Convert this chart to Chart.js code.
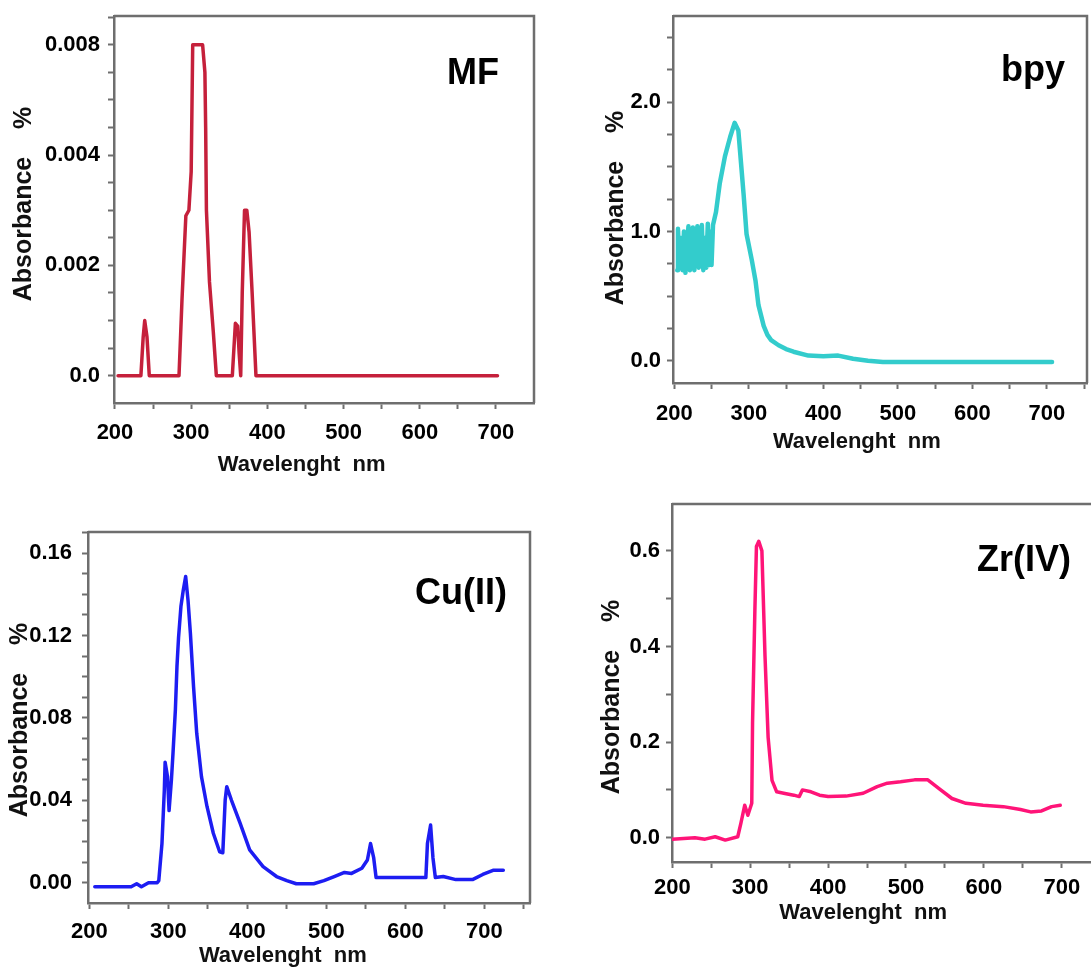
<!DOCTYPE html>
<html>
<head>
<meta charset="utf-8">
<title>Absorbance spectra</title>
<script src="https://cdn.jsdelivr.net/npm/chart.js"></script>
<style>
  html, body { margin: 0; padding: 0; background: #fff; }
  body { width: 1091px; height: 969px; position: relative; overflow: hidden; }
  canvas { position: absolute; }
</style>
</head>
<body>
<canvas id="mfChart" width="545" height="485" style="left:0px;top:0px"></canvas>
<canvas id="bpyChart" width="546" height="485" style="left:545px;top:0px"></canvas>
<canvas id="cuChart" width="545" height="484" style="left:0px;top:485px"></canvas>
<canvas id="zrChart" width="546" height="484" style="left:545px;top:485px"></canvas>
<script>
// ======= DATA =======
const xTickValues = [200, 300, 400, 500, 600, 700];

// MF: the axis is evenly spaced but its top label reads 0.008
const mfWavelength = [204, 234, 237, 239, 242, 245, 284, 288, 293, 297, 300, 302, 304, 310, 315, 318, 319, 320, 324, 329, 333, 354, 358, 361, 363, 365, 367, 370, 373, 376, 380, 385, 702];
const mfAbsorbance = [0, 0, 0.0007, 0.001, 0.0007, 0, 0, 0.0014, 0.0029, 0.003, 0.0037, 0.006, 0.006, 0.006, 0.006, 0.0055, 0.0045, 0.003, 0.0017, 0.0008, 0, 0, 0.00095, 0.0009, 0.0004, 0, 0.0015, 0.003, 0.003, 0.0026, 0.0015, 0, 0];
const mfYTickValues = [0, 0.002, 0.004, 0.006];
const mfYTickLabels = ['0.0', '0.002', '0.004', '0.008'];

const bpyWavelength = [204, 205, 207, 209, 211, 213, 215, 217, 219, 221, 223, 225, 227, 229, 231, 233, 235, 237, 239, 241, 243, 245, 247, 249, 250, 252, 256, 261, 268, 275, 281, 286, 289, 293, 297, 304, 309, 313, 320, 325, 330, 340, 350, 360, 380, 400, 420, 440, 460, 480, 707];
const bpyAbsorbance = [0.70, 1.02, 0.72, 0.95, 0.70, 1.00, 0.68, 0.85, 1.04, 0.70, 0.75, 1.03, 0.70, 0.90, 1.04, 0.72, 0.78, 1.05, 0.70, 0.95, 0.72, 1.06, 0.74, 1.00, 0.74, 1.05, 1.15, 1.37, 1.58, 1.73, 1.84, 1.78, 1.57, 1.29, 0.98, 0.78, 0.62, 0.43, 0.27, 0.20, 0.16, 0.12, 0.09, 0.07, 0.04, 0.035, 0.04, 0.015, 0.0, -0.01, -0.01];
const bpyYTickValues = [0, 1, 2];
const bpyYTickLabels = ['0.0', '1.0', '2.0'];

const cuWavelength = [207, 253, 260, 266, 275, 286, 288, 292, 295, 296, 299, 301, 304, 306, 309, 311, 313, 316, 319, 322, 325, 328, 332, 336, 342, 349, 357, 365, 369, 372, 374, 380, 391, 403, 420, 437, 450, 462, 484, 497, 510, 523, 532, 545, 552, 556, 560, 563, 626, 628, 632, 635, 638, 648, 664, 685, 698, 711, 724];
const cuAbsorbance = [-0.002, -0.002, -0.0005, -0.002, 0, 0, 0.001, 0.019, 0.045, 0.0585, 0.0515, 0.035, 0.05, 0.063, 0.084, 0.105, 0.119, 0.134, 0.142, 0.1486, 0.137, 0.121, 0.095, 0.0725, 0.0515, 0.037, 0.024, 0.015, 0.0145, 0.040, 0.0466, 0.040, 0.0288, 0.0159, 0.0078, 0.003, 0.001, -0.0005, -0.0005, 0.001, 0.003, 0.005, 0.0045, 0.007, 0.011, 0.019, 0.012, 0.0025, 0.0025, 0.019, 0.028, 0.012, 0.0025, 0.003, 0.0015, 0.0015, 0.004, 0.006, 0.006];
const cuYTickValues = [0, 0.04, 0.08, 0.12, 0.16];
const cuYTickLabels = ['0.00', '0.04', '0.08', '0.12', '0.16'];

const zrWavelength = [200, 229, 242, 255, 268, 284, 288, 293, 297, 302, 303, 306, 308, 311, 315, 319, 323, 328, 334, 343, 356, 363, 367, 378, 389, 400, 423, 445, 463, 476, 493, 511, 528, 542, 559, 577, 599, 625, 647, 660, 674, 687, 698];
const zrAbsorbance = [-0.003, 0, -0.003, 0.002, -0.005, 0.002, 0.03, 0.068, 0.047, 0.072, 0.24, 0.476, 0.609, 0.62, 0.60, 0.38, 0.21, 0.12, 0.096, 0.093, 0.089, 0.086, 0.1, 0.096, 0.089, 0.086, 0.087, 0.093, 0.107, 0.114, 0.117, 0.121, 0.121, 0.103, 0.082, 0.072, 0.068, 0.065, 0.059, 0.054, 0.056, 0.065, 0.068];
const zrYTickValues = [0, 0.2, 0.4, 0.6];
const zrYTickLabels = ['0.0', '0.2', '0.4', '0.6'];

// ======= STYLE =======
const FONT = '"Liberation Sans", Arial, Helvetica, sans-serif';
const AXIS_COLOR = '#6e6e6e';

// tick positions (major + minor) between min and max
function tickRange(min, max, step) {
  const out = [];
  for (let k = Math.ceil(min / step - 1e-9); k * step <= max + 1e-12; k++) {
    out.push(Math.round(k * step * 1e6) / 1e6);
  }
  return out;
}

// label for a tick value if it is one of the major ticks, else empty (minor tick)
function labelFor(v, values, labels, tol) {
  for (let i = 0; i < values.length; i++) {
    if (Math.abs(v - values[i]) < tol) return labels[i];
  }
  return '';
}

function makeChart(id, p) {
  const ctx = document.getElementById(id).getContext('2d');
  const points = p.x.map((w, i) => ({ x: w, y: p.y[i] }));

  // frame, panel name and axis titles
  const panelText = {
    id: 'panelText',
    afterDraw(chart) {
      const c = chart.ctx;
      const a = chart.chartArea;
      c.save();
      c.strokeStyle = AXIS_COLOR;
      c.lineWidth = 2.5;
      c.beginPath();
      c.moveTo(a.left, a.top);
      c.lineTo(a.right, a.top);
      if (p.rightBorder) c.lineTo(a.right, a.bottom);
      c.stroke();

      c.fillStyle = '#000';
      c.font = 'bold 36px ' + FONT;
      c.textAlign = 'left';
      c.textBaseline = 'alphabetic';
      c.fillText(p.name, p.nameX, p.nameY);

      c.fillStyle = '#111';
      c.font = 'bold 22px ' + FONT;
      c.textAlign = 'center';
      c.textBaseline = 'middle';
      c.fillText('Wavelenght  nm', chart.scales.x.getPixelForValue(445), p.xTitleY);

      c.font = 'bold 25px ' + FONT;
      c.translate(p.yTitleX, p.yTitleY);
      c.rotate(-Math.PI / 2);
      c.fillText('Absorbance    %', 0, 0);
      c.restore();
    }
  };

  return new Chart(ctx, {
    type: 'line',
    data: {
      datasets: [{
        data: points,
        borderColor: p.color,
        borderWidth: p.lineWidth,
        pointRadius: 0,
        tension: 0,
        fill: false,
        borderJoinStyle: 'round',
        borderCapStyle: 'round'
      }]
    },
    options: {
      responsive: false,
      animation: false,
      layout: { padding: p.padding },
      plugins: { legend: { display: false }, tooltip: { enabled: false } },
      scales: {
        x: {
          type: 'linear',
          min: p.xMin,
          max: p.xMax,
          afterBuildTicks: (s) => { s.ticks = tickRange(p.xMin, p.xMax, 50).map(v => ({ value: v })); },
          afterFit: (s) => { s.height = p.xHeight; s.paddingLeft = 0; s.paddingRight = 0; },
          border: { color: AXIS_COLOR, width: 2.5 },
          grid: { drawOnChartArea: false, tickLength: 6, tickColor: AXIS_COLOR, tickWidth: 2 },
          ticks: {
            autoSkip: false,
            maxRotation: 0,
            padding: p.xPad,
            color: '#000',
            font: { family: FONT, size: 22, weight: 'bold' },
            callback: (v) => labelFor(v, xTickValues, xTickValues.map(String), 1)
          }
        },
        y: {
          min: p.yMin,
          max: p.yMax,
          afterBuildTicks: (s) => { s.ticks = tickRange(p.yMin, p.yMax, p.yStep).map(v => ({ value: v })); },
          afterFit: (s) => { s.width = p.yWidth; s.paddingTop = 0; s.paddingBottom = 0; },
          border: { color: AXIS_COLOR, width: 2.5 },
          grid: { drawOnChartArea: false, tickLength: 6, tickColor: AXIS_COLOR, tickWidth: 2 },
          ticks: {
            autoSkip: false,
            padding: p.yPad,
            color: '#000',
            font: { family: FONT, size: 22, weight: 'bold' },
            callback: (v) => labelFor(v, p.yTicks, p.yLabels, p.yStep / 10)
          }
        }
      }
    },
    plugins: [panelText]
  });
}

makeChart('mfChart', {
  name: 'MF', nameX: 447, nameY: 84,
  x: mfWavelength, y: mfAbsorbance, color: '#c5203b', lineWidth: 3.5,
  padding: { left: 0, top: 16, right: 11, bottom: 0 },
  yWidth: 114, xHeight: 82, xPad: 11, yPad: 8,
  xMin: 198.7, xMax: 749.9, yMin: -0.000495, yMax: 0.006522, yStep: 0.0005,
  yTicks: mfYTickValues, yLabels: mfYTickLabels,
  xTitleY: 465, yTitleX: 24, yTitleY: 204, rightBorder: true
});

makeChart('bpyChart', {
  name: 'bpy', nameX: 456, nameY: 81,
  x: bpyWavelength, y: bpyAbsorbance, color: '#33cccc', lineWidth: 4.5,
  padding: { left: 0, top: 16, right: 4, bottom: 0 },
  yWidth: 128, xHeight: 102, xPad: 12, yPad: 6,
  xMin: 198.3, xMax: 753.9, yMin: -0.172, yMax: 2.666, yStep: 0.25,
  yTicks: bpyYTickValues, yLabels: bpyYTickLabels,
  xTitleY: 442, yTitleX: 71, yTitleY: 208, rightBorder: true
});

makeChart('cuChart', {
  name: 'Cu(II)', nameX: 415, nameY: 119,
  x: cuWavelength, y: cuAbsorbance, color: '#1d1df2', lineWidth: 3.5,
  padding: { left: 0, top: 47, right: 15, bottom: 0 },
  yWidth: 88, xHeight: 66, xPad: 10, yPad: 10,
  xMin: 198.4, xMax: 757.8, yMin: -0.00985, yMax: 0.1702, yStep: 0.01,
  yTicks: cuYTickValues, yLabels: cuYTickLabels,
  xTitleY: 471, yTitleX: 20, yTitleY: 235, rightBorder: true
});

makeChart('zrChart', {
  name: 'Zr(IV)', nameX: 432, nameY: 86,
  x: zrWavelength, y: zrAbsorbance, color: '#ff1478', lineWidth: 3.5,
  padding: { left: 0, top: 19, right: 0, bottom: 0 },
  yWidth: 127, xHeight: 107, xPad: 7, yPad: 6,
  xMin: 199.6, xMax: 737.5, yMin: -0.0508, yMax: 0.698, yStep: 0.1,
  yTicks: zrYTickValues, yLabels: zrYTickLabels,
  xTitleY: 428, yTitleX: 67, yTitleY: 212, rightBorder: false
});
</script>
</body>
</html>
